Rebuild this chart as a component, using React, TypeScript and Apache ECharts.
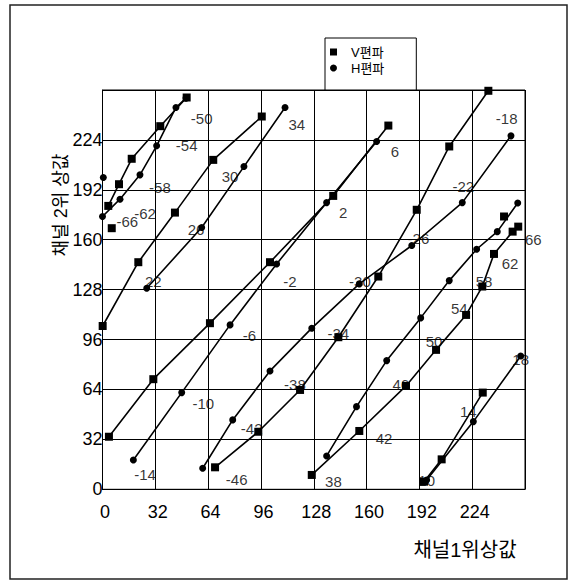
import React, { useEffect, useRef } from "react";
import * as echarts from "echarts";

// V편파 (square markers) line groups: [채널1위상값, 채널2위상값]
const vGroupA = [[3.5, 181.7], [10, 195.6], [17.7, 211.9], [35, 232.8], [51, 251.2]];
const vGroupB = [[0.1, 104.7], [21.7, 145.6], [43.9, 177.4], [67.1, 211.2], [96.5, 239]];
const vGroupC = [[3.9, 33.7], [30.8, 70.6], [65.1, 106.5], [101.5, 145.6], [139.8, 188.1], [173.2, 233.2]];
const vGroupD = [[68.2, 14.1], [94.4, 36.9], [119.7, 63.7], [142.9, 97.5], [167.1, 136.4], [190.4, 179.2], [210.1, 219.8], [233.8, 255.5]];
const vGroupE = [[126.8, 9.2], [155.6, 37.4], [183.9, 66.3], [202.1, 89.4], [220.3, 111.8], [230.1, 130], [237.2, 150.9], [248.5, 165.2], [251.9, 168.4]];
const vGroupF = [[194.8, 4.9], [205.5, 19.2], [230.4, 62]];
const vSingles = [[5.6, 167.4], [243.3, 174.9]];

// H편파 (circle markers) line groups
const hGroupA = [[0, 174.9], [10.6, 186], [22.7, 201.6], [32.8, 220.2], [44.5, 244.8], [50.6, 250.8]];
const hGroupB = [[26.8, 128.9], [60.1, 167.8], [85.7, 206.9], [110.6, 244.8]];
const hGroupC = [[18.7, 18.8], [48, 62], [77.3, 105.4], [105.5, 144.5], [135.8, 183.8], [166.1, 223]];
const hGroupD = [[60.7, 13.5], [78.9, 44.5], [101.5, 75.9], [126.8, 103.3], [155.6, 131.7], [187.4, 156.3], [218, 183.8], [247.5, 226.6]];
const hGroupE = [[135.8, 21.4], [153.9, 53], [172.2, 82.5], [192.8, 109.9], [210.1, 133.8], [226.7, 153.9], [239.2, 165.2], [251.6, 183.5]];
const hGroupF = [[196.4, 6], [224.7, 43.4], [253.4, 85.5]];
const hSingles = [[0.5, 199.9]];

// phase annotations
const phaseText = ["-50", "-54", "-58", "-62", "-66", "34", "30", "26", "22", "6", "2", "-2", "-6", "-10", "-14", "-18", "-22", "-26", "-30", "-34", "-38", "-42", "-46", "38", "42", "46", "50", "54", "58", "62", "66", "10", "14", "18"];
const phaseX = [60.1, 51, 34.8, 25.8, 15, 117.7, 77.3, 56.7, 30.8, 177.2, 145.9, 113.6, 89, 61.1, 25.8, 244.9, 218.6, 191.4, 156, 142.9, 116.6, 90.4, 81.3, 139.9, 170.6, 180.7, 200.9, 216.2, 231.2, 246.9, 261, 196.4, 221.6, 253.4];
const phaseY = [238, 220.2, 193.7, 177, 171.6, 233.7, 200.5, 166.3, 133.2, 216.5, 177.4, 133.2, 98.5, 54.7, 9.2, 238, 194.1, 161, 133.2, 100, 67.5, 38.7, 6, 4.9, 32.7, 66.9, 94.7, 116.1, 133.2, 144.5, 160.4, 5.5, 49.8, 83.4];

const tickValues = [0, 32, 64, 96, 128, 160, 192, 224];

const V_NAME = "V편파";
const H_NAME = "H편파";

export default function App() {
  const ref = useRef<HTMLDivElement>(null);
  useEffect(() => {
    if (!ref.current) return;
    const chart = echarts.init(ref.current, null, { renderer: "svg" });
    const font = '"Liberation Sans", Arial, "Noto Sans CJK KR", sans-serif';
    const lineSeries = (name: string, data: number[][], symbol: string, size: number, showLine = true) => ({
      name,
      type: "line",
      data,
      symbol,
      symbolSize: size,
      showSymbol: true,
      lineStyle: { color: "#000", width: showLine ? 1.6 : 0, opacity: showLine ? 1 : 0 },
      itemStyle: { color: "#000" },
      z: 3,
    });
    const vGroups = [vGroupA, vGroupB, vGroupC, vGroupD, vGroupE, vGroupF];
    const hGroups = [hGroupA, hGroupB, hGroupC, hGroupD, hGroupE, hGroupF];
    const series: any[] = [];
    vGroups.forEach((g) => series.push(lineSeries(V_NAME, g, "rect", 8)));
    hGroups.forEach((g) => series.push(lineSeries(H_NAME, g, "circle", 7)));
    series.push(lineSeries(V_NAME, vSingles, "rect", 8, false));
    series.push(lineSeries(H_NAME, hSingles, "circle", 7, false));
    series.push({
      name: "labels",
      type: "scatter",
      symbolSize: 0,
      clip: false,
      data: phaseText.map((t, i) => [phaseX[i], phaseY[i], t]),
      label: {
        show: true,
        position: "inside",
        formatter: (p: any) => p.value[2],
        color: "#000",
        textBorderWidth: 0,
        fontSize: 15,
        fontFamily: font,
      },
      z: 4,
    });
    const axisLabelFmt = (v: number) => (tickValues.indexOf(v) >= 0 ? String(v) : "");
    chart.setOption({
      animation: false,
      backgroundColor: "#fff",
      textStyle: { fontFamily: font },
      grid: {
        left: 102.5,
        right: 49,
        top: 90,
        bottom: 95.7,
        show: true,
        borderColor: "#000",
        borderWidth: 1,
        containLabel: false,
      },
      legend: {
        data: [
          { name: V_NAME, icon: "rect" },
          { name: H_NAME, icon: "circle" },
        ],
        orient: "vertical",
        left: 325,
        top: 38,
        itemWidth: 7,
        itemHeight: 7,
        itemGap: 0,
        itemSymbolKeepAspect: true,
        padding: [6, 32, 14, 5],
        borderColor: "#000",
        borderWidth: 1,
        backgroundColor: "#fff",
        textStyle: {
          fontSize: 13,
          lineHeight: 16,
          color: "#000",
          fontFamily: font,
          padding: [0, 0, 0, 9],
        },
      },
      xAxis: {
        type: "value",
        min: 0,
        max: 256,
        interval: 32,
        axisLine: { show: true, lineStyle: { color: "#000", width: 1 } },
        axisTick: { show: false },
        splitLine: { show: true, lineStyle: { color: "#000", width: 1 } },
        axisLabel: {
          formatter: axisLabelFmt,
          fontSize: 18,
          color: "#000",
          margin: 14,
          padding: [0, 0, 0, 5],
          fontFamily: font,
        },
      },
      yAxis: {
        type: "value",
        min: 0,
        max: 256,
        interval: 32,
        axisLine: { show: true, lineStyle: { color: "#000", width: 1 } },
        axisTick: { show: false },
        splitLine: { show: true, lineStyle: { color: "#000", width: 1 } },
        axisLabel: {
          formatter: axisLabelFmt,
          fontSize: 18,
          color: "#000",
          margin: 0,
          padding: [14, 0, 0, 0],
          fontFamily: font,
        },
      },
      graphic: [
        {
          type: "rect",
          shape: { x: 10, y: 5, width: 557, height: 574 },
          style: { fill: "none", stroke: "#222", lineWidth: 1.5 },
          silent: true,
        },
        {
          type: "text",
          x: 465,
          y: 550,
          style: {
            text: "채널1위상값",
            fontSize: 20,
            fill: "#000",
            align: "center",
            verticalAlign: "middle",
            fontFamily: font,
          },
        },
        {
          type: "text",
          x: 61,
          y: 205,
          rotation: Math.PI / 2,
          style: {
            text: "채널 2위 상값",
            fontSize: 18,
            fill: "#000",
            align: "center",
            verticalAlign: "middle",
            fontFamily: font,
          },
        },
      ],
      series,
    });
    return () => chart.dispose();
  }, []);
  return (
    <div
      ref={ref}
      style={{ position: "fixed", left: 0, top: 0, width: 574, height: 585 }}
    />
  );
}
